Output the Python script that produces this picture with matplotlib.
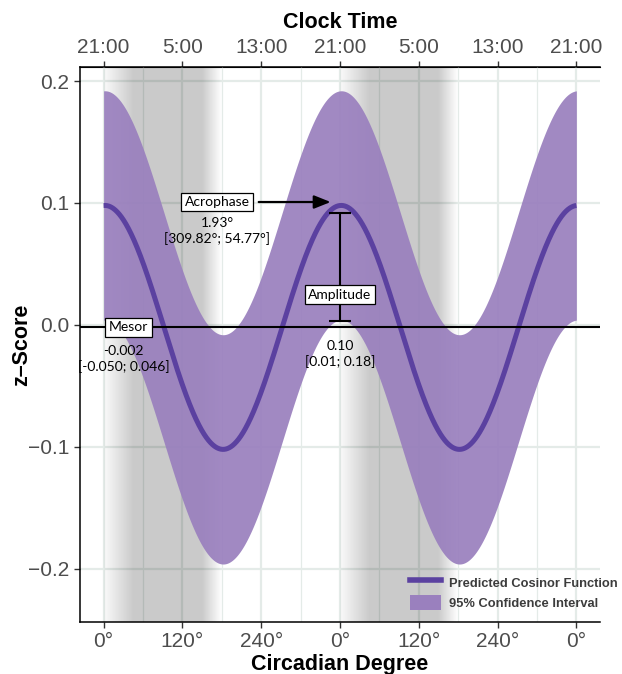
import numpy as np
import matplotlib
matplotlib.use("Agg")
import matplotlib.pyplot as plt
from matplotlib.lines import Line2D
from matplotlib.patches import Patch

# cosinor estimates as printed on the chart
mesor = -0.002
amplitude = 0.10
acrophase = 1.93          # degrees
ci_halfwidth = 0.094

deg_ticks = [0, 120, 240, 360, 480, 600, 720]
deg_labels = ["0°", "120°", "240°", "0°", "120°", "240°", "0°"]
clock_labels = ["21:00", "5:00", "13:00", "21:00", "5:00", "13:00", "21:00"]
y_ticks = [-0.2, -0.1, 0.0, 0.1, 0.2]
y_labels = ["\u22120.2", "\u22120.1", "0.0", "0.1", "0.2"]

mesor_txt = "-0.002\n[-0.050; 0.046]"
acro_txt = "1.93°\n[309.82°; 54.77°]"
amp_txt = "0.10\n[0.01; 0.18]"

line_col = "#5B41A0"
band_col = "#9A80BE"
grid_col = "#E4EBE8"
tick_col = "#4D4D4D"

x = np.linspace(0, 720, 1441)
pred = mesor + amplitude * np.cos(np.radians(x - acrophase))
upper = pred + ci_halfwidth
lower = pred - ci_halfwidth

fig = plt.figure(figsize=(6.22, 6.74), dpi=100)
ax = fig.add_axes([0.1286, 0.0772, 0.836, 0.8234])
ax.set_xlim(-36, 756)
ax.set_ylim(-0.2435, 0.2115)

# grid
ax.set_axisbelow(True)
ax.set_xticks(deg_ticks)
ax.set_xticks(np.arange(60, 720, 120), minor=True)
ax.set_yticks(y_ticks)
ax.grid(True, which="major", color=grid_col, lw=1.6)
ax.grid(True, which="minor", axis="x", color=grid_col, lw=0.9)

# night shading (gradient): fade in over 0-45, full to 150, fade out by 180
xs = np.linspace(-36, 756, 1600)
ph = np.mod(xs, 360)
alpha = np.zeros_like(xs)
alpha = np.where(ph < 45, 0.1 + 0.9 * ph / 45, alpha)
alpha = np.where((ph >= 45) & (ph < 150), 1.0, alpha)
alpha = np.where((ph >= 150) & (ph < 180), 1 - (ph - 150) / 30, alpha)
alpha = np.where((xs < 0) | (xs > 720), 0, alpha)
img = np.zeros((1, len(xs), 4))
img[..., 3] = alpha * 0.21
ax.imshow(img, extent=[-36, 756, -0.2435, 0.2115], aspect="auto",
          interpolation="bilinear", zorder=1)

ax.fill_between(x, lower, upper, color=band_col, alpha=0.93, lw=0, zorder=2)
ax.plot(x, pred, color=line_col, lw=3.6, zorder=3, solid_capstyle="butt")
ax.axhline(mesor, color="black", lw=1.5, zorder=4)

box = dict(boxstyle="square,pad=0.25", fc="white", ec="black", lw=0.9)
afont = dict(family="Lato", fontsize=10, color="black")

# mesor
ax.text(38, mesor, "Mesor", ha="center", va="center", bbox=box, zorder=6, **afont)
ax.text(30, -0.0165, mesor_txt, ha="center", va="top", linespacing=1.3, zorder=6, **afont)

# acrophase
ax.annotate("", xy=(350, 0.1008), xytext=(232, 0.1008),
            arrowprops=dict(arrowstyle="-|>,head_length=1.0,head_width=0.4",
                            color="black", lw=1.6), zorder=5)
ax.text(173, 0.1008, "Acrophase", ha="center", va="center", bbox=box, zorder=6, **afont)
ax.text(173, 0.0885, acro_txt, ha="center", va="top", linespacing=1.3, zorder=6, **afont)

# amplitude
ax.errorbar([360], [0.0475], yerr=[[0.0445], [0.0445]], fmt="none", ecolor="black",
            elinewidth=1.5, capsize=8, capthick=1.5, zorder=5)
ax.text(360, 0.0246, "Amplitude", ha="center", va="center", bbox=box, zorder=6, **afont)
ax.text(360, -0.0125, amp_txt, ha="center", va="top", linespacing=1.3, zorder=6, **afont)

# axes styling
ax.set_xticklabels(deg_labels)
ax.set_yticklabels(y_labels)
ax.tick_params(axis="both", which="major", labelsize=15, labelcolor=tick_col,
               color="#333333", length=4, width=1)
ax.tick_params(axis="x", which="minor", length=0)
for lab in ax.get_xticklabels() + ax.get_yticklabels():
    lab.set_family("Liberation Sans")
ax.spines["right"].set_visible(False)
for s in ["left", "bottom", "top"]:
    ax.spines[s].set_linewidth(1.1)

ax.set_xlabel("Circadian Degree", family="Liberation Sans", fontsize=15.5,
              fontweight="bold", labelpad=2)
ax.set_ylabel("z\u2013Score", family="Liberation Sans", fontsize=15.5,
              fontweight="bold", labelpad=-3)

top = ax.secondary_xaxis("top")
top.set_xticks(deg_ticks)
top.set_xticklabels(clock_labels)
top.tick_params(labelsize=15, labelcolor=tick_col, color="#333333", length=4, width=1)
for lab in top.get_xticklabels():
    lab.set_family("Liberation Sans")
top.set_xlabel("Clock Time", family="Liberation Sans", fontsize=15.5,
               fontweight="bold", labelpad=7)

handles = [Line2D([0], [0], color=line_col, lw=4),
           Patch(facecolor=band_col, edgecolor="none")]
leg = ax.legend(handles, ["Predicted Cosinor Function", "95% Confidence Interval"],
                loc="upper left", bbox_to_anchor=(0.641, 0.165),
                bbox_transform=fig.transFigure, frameon=False,
                prop=dict(family="Liberation Sans", weight="bold", size=9.3),
                labelcolor="#3C3C3C", handlelength=2.4, handleheight=1.5,
                handletextpad=0.6, labelspacing=0.35)
leg.set_zorder(7)

fig.savefig("out.png", dpi=100)
